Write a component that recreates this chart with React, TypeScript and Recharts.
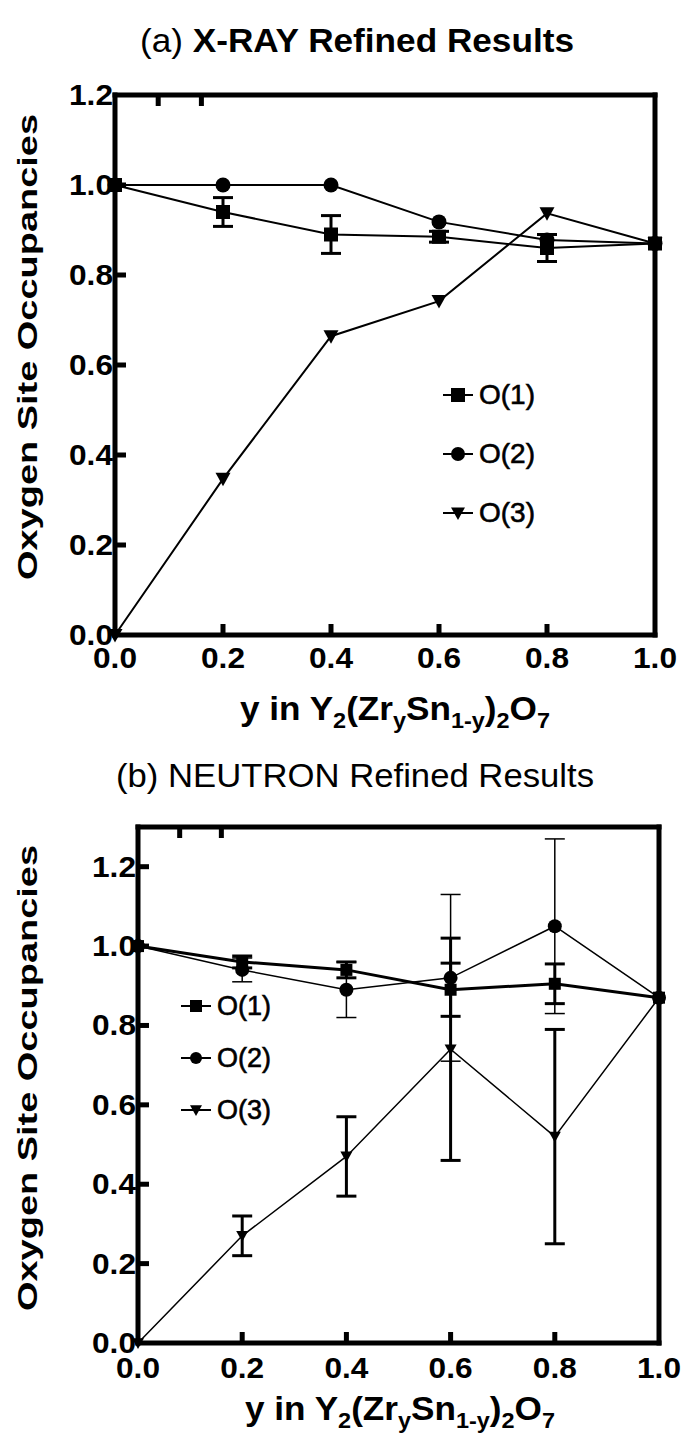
import { LineChart, Line, XAxis, YAxis, ErrorBar, Legend } from "recharts"

// composition y in Y2(ZrySn1-y)2O7
const yComp = [0, 0.2, 0.4, 0.6, 0.8, 1.0]
const xTicks = [0, 0.2, 0.4, 0.6, 0.8, 1.0]

// (a) X-ray refined occupancies
const xrayO1 = [1.0, 0.94, 0.89, 0.885, 0.86, 0.87]
const xrayO1Err = [null, 0.032, 0.042, 0.012, 0.03, null]
const xrayO2 = [1.0, 1.0, 1.0, 0.918, 0.878, 0.87]
const xrayO3 = [0.0, 0.347, 0.664, 0.742, 0.937, 0.87]
const xrayYTicks = [0, 0.2, 0.4, 0.6, 0.8, 1.0, 1.2]

// (b) neutron refined occupancies
const neutO1 = [1.0, 0.96, 0.94, 0.89, 0.905, 0.87]
const neutO1Err = [null, 0.015, 0.02, 0.067, 0.05, null]
const neutO2 = [1.0, 0.94, 0.89, 0.92, 1.05, 0.87]
const neutO2Err = [null, 0.03, 0.07, 0.21, 0.22, null]
const neutO3 = [0.0, 0.27, 0.47, 0.74, 0.52, 0.87]
const neutO3Err = [null, 0.05, 0.1, 0.28, 0.27, null]
const neutYTicks = [0, 0.2, 0.4, 0.6, 0.8, 1.0, 1.2]

const seriesNames = ["O(1)", "O(2)", "O(3)"]

const xrayData = yComp.map((y, i) => ({
  y,
  o1: xrayO1[i],
  o1Err: xrayO1Err[i],
  o2: xrayO2[i],
  o3: xrayO3[i],
}))

const neutData = yComp.map((y, i) => ({
  y,
  o1: neutO1[i],
  o1Err: neutO1Err[i],
  o2: neutO2[i],
  o2Err: neutO2Err[i],
  o3: neutO3[i],
  o3Err: neutO3Err[i],
}))

const FONT = "'Liberation Sans', Arial, Helvetica, sans-serif"
const INK = "#000"
const TICK_LEN = 11
const TICK_W = 5

type DotProps = { cx?: number; cy?: number; index?: number }

const squareDot = (size: number) => (p: DotProps) => (
  <rect key={`sq${p.index}`} x={(p.cx ?? 0) - size / 2} y={(p.cy ?? 0) - size / 2} width={size} height={size} fill={INK} />
)
const circleDot = (r: number) => (p: DotProps) => (
  <circle key={`ci${p.index}`} cx={p.cx} cy={p.cy} r={r} fill={INK} />
)
const triDot = (size: number) => (p: DotProps) => {
  const cx = p.cx ?? 0
  const cy = p.cy ?? 0
  const h = size * 0.9
  return (
    <polygon
      key={`tr${p.index}`}
      points={`${cx - size / 2},${cy - h * 0.45} ${cx + size / 2},${cy - h * 0.45} ${cx},${cy + h * 0.55}`}
      fill={INK}
    />
  )
}

// bottom axis: inward tick + label below (tickSize 0, so p.y = axis + margin)
const xTick = (margin: number) => (p: any) => {
  const axisY = p.y - margin
  const v = Number(p.payload.value)
  return (
    <g>
      {v > 0 && v < 1 && <rect x={p.x - TICK_W / 2} y={axisY - TICK_LEN} width={TICK_W} height={TICK_LEN} fill={INK} />}
      <text x={p.x} y={axisY + margin - 8} textAnchor="middle" dominantBaseline="hanging" fontFamily={FONT} fontWeight="bold" fontSize={29} fill={INK} textLength={44} lengthAdjust="spacingAndGlyphs">
        {v.toFixed(1)}
      </text>
    </g>
  )
}
// left axis: inward tick + label left of the frame
const yTick = (margin: number, top: number) => (p: any) => {
  const axisX = p.x + margin
  const v = Number(p.payload.value)
  return (
    <g>
      {v > 0 && v < top && <rect x={axisX} y={p.y - TICK_W / 2} width={TICK_LEN} height={TICK_W} fill={INK} />}
      <text x={p.x} y={p.y} textAnchor="end" dominantBaseline="central" fontFamily={FONT} fontWeight="bold" fontSize={29} fill={INK} textLength={44} lengthAdjust="spacingAndGlyphs">
        {v.toFixed(1)}
      </text>
    </g>
  )
}
// top and right axes: inward ticks only
const topTick = (p: any) => {
  const v = Number(p.payload.value)
  if (v <= 0 || v >= 1) return <g />
  return <rect x={p.x - TICK_W / 2} y={p.y} width={TICK_W} height={TICK_LEN} fill={INK} />
}
const rightTick = (top: number) => (p: any) => {
  const v = Number(p.payload.value)
  if (v <= 0 || v >= top) return <g />
  return <rect x={p.x - TICK_LEN} y={p.y - TICK_W / 2} width={TICK_LEN} height={TICK_W} fill={INK} />
}

const LegendIcon = ({ kind, size }: { kind: number; size: number }) => (
  <svg width={30} height={20} style={{ display: "block" }}>
    <line x1={0} y1={10} x2={30} y2={10} stroke={INK} strokeWidth={2} />
    {kind === 0 && <rect x={15 - size / 2} y={10 - size / 2} width={size} height={size} fill={INK} />}
    {kind === 1 && <circle cx={15} cy={10} r={size / 2} fill={INK} />}
    {kind === 2 && <polygon points={`${15 - size / 2},${10 - size * 0.4} ${15 + size / 2},${10 - size * 0.4} 15,${10 + size * 0.5}`} fill={INK} />}
  </svg>
)

const makeLegend = (rowH: number, gap: number, fontSize: number, size: number) => () => (
  <div style={{ fontFamily: FONT }}>
    {seriesNames.map((name, i) => (
      <div key={name} style={{ display: "flex", alignItems: "center", height: rowH }}>
        <LegendIcon kind={i} size={size} />
        <span style={{ marginLeft: gap, fontSize, color: INK, lineHeight: 1, WebkitTextStroke: "0.6px #000" }}>{name}</span>
      </div>
    ))}
  </div>
)

const frame = { stroke: INK, strokeWidth: 5, strokeLinecap: "square" as const }

function XrayChart() {
  return (
    <LineChart width={687} height={740} data={xrayData} margin={{ top: 90, right: 27, left: 55, bottom: 65 }}>
      <XAxis dataKey="y" type="number" domain={[0, 1]} ticks={xTicks} height={40} axisLine={frame} tickLine={false} tickSize={0} tickMargin={20} tick={xTick(20)} />
      <XAxis xAxisId="top" orientation="top" type="number" domain={[0, 1]} ticks={xTicks} height={5} axisLine={frame} tickLine={false} tickSize={0} tickMargin={0} tick={topTick} />
      <YAxis type="number" domain={[0, 1.2]} ticks={xrayYTicks} width={60} axisLine={frame} tickLine={false} tickSize={0} tickMargin={2} tick={yTick(2, 1.2)} />
      <YAxis yAxisId="right" orientation="right" type="number" domain={[0, 1.2]} ticks={xrayYTicks} width={5} axisLine={frame} tickLine={false} tickSize={0} tickMargin={0} tick={rightTick(1.2)} />
      <Line name="O(1)" dataKey="o1" stroke={INK} strokeWidth={2} dot={squareDot(14)} isAnimationActive={false}>
        <ErrorBar dataKey="o1Err" width={10} strokeWidth={3} stroke={INK} direction="y" />
      </Line>
      <Line name="O(2)" dataKey="o2" stroke={INK} strokeWidth={2} dot={circleDot(7.5)} isAnimationActive={false} />
      <Line name="O(3)" dataKey="o3" stroke={INK} strokeWidth={2} dot={triDot(15)} isAnimationActive={false} />
      <Legend layout="vertical" align="center" verticalAlign="middle" wrapperStyle={{ left: 443, top: 365, width: 120 }} content={makeLegend(59, 6, 28, 14)} />
    </LineChart>
  )
}

function NeutronChart() {
  return (
    <LineChart width={687} height={695} data={neutData} margin={{ top: 82, right: 23, left: 78, bottom: 52 }}>
      <XAxis dataKey="y" type="number" domain={[0, 1]} ticks={xTicks} height={40} axisLine={frame} tickLine={false} tickSize={0} tickMargin={22} tick={xTick(22)} />
      <XAxis xAxisId="top" orientation="top" type="number" domain={[0, 1]} ticks={xTicks} height={5} axisLine={frame} tickLine={false} tickSize={0} tickMargin={0} tick={topTick} />
      <YAxis type="number" domain={[0, 1.3]} ticks={neutYTicks} width={60} axisLine={frame} tickLine={false} tickSize={0} tickMargin={2} tick={yTick(2, 1.3)} />
      <YAxis yAxisId="right" orientation="right" type="number" domain={[0, 1.3]} ticks={neutYTicks} width={5} axisLine={frame} tickLine={false} tickSize={0} tickMargin={0} tick={rightTick(1.3)} />
      <Line name="O(1)" dataKey="o1" stroke={INK} strokeWidth={3} dot={squareDot(12)} isAnimationActive={false}>
        <ErrorBar dataKey="o1Err" width={10} strokeWidth={3} stroke={INK} direction="y" />
      </Line>
      <Line name="O(2)" dataKey="o2" stroke={INK} strokeWidth={1.5} dot={circleDot(7)} isAnimationActive={false}>
        <ErrorBar dataKey="o2Err" width={10} strokeWidth={1.5} stroke={INK} direction="y" />
      </Line>
      <Line name="O(3)" dataKey="o3" stroke={INK} strokeWidth={1.5} dot={triDot(12)} isAnimationActive={false}>
        <ErrorBar dataKey="o3Err" width={10} strokeWidth={3} stroke={INK} direction="y" />
      </Line>
      <Legend layout="vertical" align="center" verticalAlign="middle" wrapperStyle={{ left: 181, top: 240, width: 120 }} content={makeLegend(52, 6, 27, 12)} />
    </LineChart>
  )
}

const XTitle = ({ x, y, len }: { x: number; y: number; len: number }) => (
  <text x={x} y={y} fontFamily={FONT} fontWeight="bold" fontSize={33} fill={INK} textLength={len} lengthAdjust="spacingAndGlyphs">
    <tspan>y in Y</tspan>
    <tspan dy={8} fontSize={22}>2</tspan>
    <tspan dy={-8}>(Zr</tspan>
    <tspan dy={8} fontSize={22}>y</tspan>
    <tspan dy={-8}>Sn</tspan>
    <tspan dy={8} fontSize={22}>1-y</tspan>
    <tspan dy={-8}>)</tspan>
    <tspan dy={8} fontSize={22}>2</tspan>
    <tspan dy={-8}>O</tspan>
    <tspan dy={8} fontSize={22}>7</tspan>
  </text>
)

const YTitle = ({ x, y }: { x: number; y: number }) => (
  <text x={x} y={y} transform={`rotate(-90 ${x} ${y})`} textAnchor="middle" fontFamily={FONT} fontWeight="bold" fontSize={28} fill={INK} textLength={466} lengthAdjust="spacingAndGlyphs">
    Oxygen Site Occupancies
  </text>
)

export default function App() {
  return (
    <div style={{ position: "absolute", left: 0, top: 0, width: 687, height: 1435, background: "#fff", overflow: "hidden" }}>
      <div style={{ position: "absolute", left: 0, top: 0 }}>
        <XrayChart />
      </div>
      <div style={{ position: "absolute", left: 0, top: 740 }}>
        <NeutronChart />
      </div>
      <svg width={687} height={1435} style={{ position: "absolute", left: 0, top: 0, pointerEvents: "none" }}>
        <text x={140} y={52} fontFamily={FONT} fontSize={34} fill={INK} textLength={434} lengthAdjust="spacingAndGlyphs">
          <tspan>(a) </tspan>
          <tspan fontWeight="bold">X-RAY Refined Results</tspan>
        </text>
        <YTitle x={37} y={347} />
        <XTitle x={240} y={720} len={310} />
        <text x={116} y={787} fontFamily={FONT} fontSize={33} fill={INK} textLength={478} lengthAdjust="spacingAndGlyphs">
          (b) NEUTRON Refined Results
        </text>
        <YTitle x={37} y={1078} />
        <XTitle x={245} y={1420} len={310} />
      </svg>
    </div>
  )
}
